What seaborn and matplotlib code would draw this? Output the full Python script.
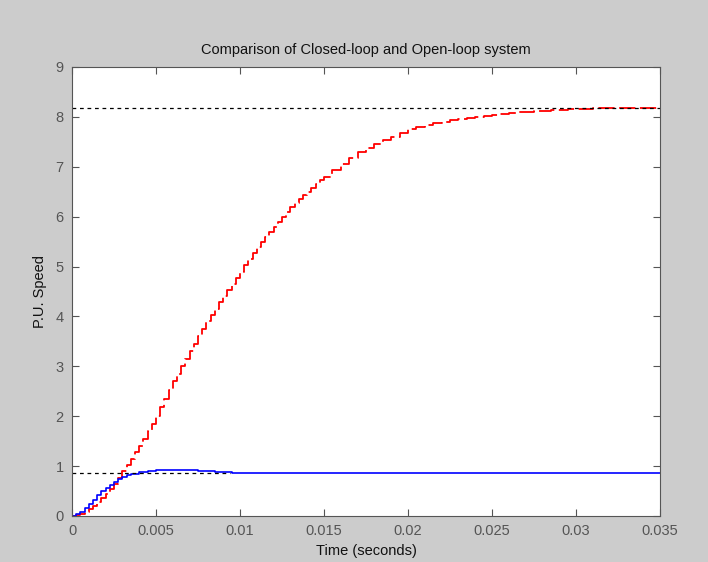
import numpy as np
import pandas as pd
import matplotlib
matplotlib.use("Agg")
import matplotlib.pyplot as plt
import seaborn as sns

# Open-loop response (red)
t_open = [0, 0.00025, 0.0005, 0.00075, 0.001, 0.00125, 0.0015, 0.00175, 0.002, 0.00225,
          0.0025, 0.00275, 0.003, 0.00325, 0.0035, 0.00375, 0.004, 0.00425, 0.0045, 0.00475,
          0.005, 0.00525, 0.0055, 0.00575, 0.006, 0.00625, 0.0065, 0.00675, 0.007, 0.00725,
          0.0075, 0.00775, 0.008, 0.00825, 0.0085, 0.00875, 0.009, 0.00925, 0.0095, 0.00975,
          0.010, 0.01025, 0.0105, 0.01075, 0.011, 0.01125, 0.0115, 0.01175, 0.012, 0.01225,
          0.0125, 0.01275, 0.013, 0.01325, 0.0135, 0.01375, 0.014, 0.01425, 0.0145, 0.01475,
          0.015, 0.0155, 0.016, 0.0165, 0.017, 0.0175, 0.018, 0.0185, 0.019, 0.0195,
          0.020, 0.0205, 0.021, 0.0215, 0.022, 0.0225, 0.023, 0.0235, 0.024, 0.0245,
          0.025, 0.0255, 0.026, 0.0265, 0.027, 0.0275, 0.028, 0.0285, 0.029, 0.0295,
          0.030, 0.031, 0.032, 0.033, 0.035]
y_open = [0, 0.01, 0.04, 0.08, 0.14, 0.2, 0.28, 0.36, 0.45, 0.55,
          0.65, 0.77, 0.9, 1.02, 1.15, 1.28, 1.4, 1.55, 1.7, 1.85,
          2.0, 2.18, 2.35, 2.52, 2.7, 2.85, 3.0, 3.15, 3.3, 3.45,
          3.6, 3.75, 3.9, 4.03, 4.15, 4.28, 4.4, 4.53, 4.65, 4.78,
          4.9, 5.03, 5.15, 5.28, 5.4, 5.5, 5.6, 5.7, 5.8, 5.9,
          6.0, 6.1, 6.2, 6.28, 6.35, 6.43, 6.5, 6.58, 6.65, 6.73,
          6.8, 6.93, 7.05, 7.18, 7.3, 7.38, 7.45, 7.53, 7.6, 7.68,
          7.75, 7.79, 7.83, 7.87, 7.9, 7.93, 7.95, 7.98, 8.0, 8.02,
          8.04, 8.06, 8.08, 8.09, 8.1, 8.11, 8.12, 8.13, 8.14, 8.15,
          8.16, 8.17, 8.17, 8.18, 8.18]

# Closed-loop response (blue)
t_closed = [0, 0.00025, 0.0005, 0.00075, 0.001, 0.00125, 0.0015, 0.00175, 0.002, 0.00225,
            0.0025, 0.00275, 0.003, 0.00325, 0.0035, 0.004, 0.0045, 0.005, 0.0065, 0.0075,
            0.0085, 0.0095, 0.035]
y_closed = [0, 0.03, 0.08, 0.15, 0.25, 0.33, 0.42, 0.5, 0.57, 0.63,
            0.69, 0.74, 0.79, 0.82, 0.85, 0.88, 0.9, 0.93, 0.93, 0.91,
            0.89, 0.87, 0.87]

open_final = 8.18
closed_final = 0.87
closed_settle = 0.0094

title = "Comparison of Closed-loop and Open-loop system"
xlabel = "Time (seconds)"
ylabel = "P.U. Speed"
xticks = [0, 0.005, 0.01, 0.015, 0.02, 0.025, 0.03, 0.035]
xticklabels = ["0", "0.005", "0.01", "0.015", "0.02", "0.025", "0.03", "0.035"]
yticks = list(range(10))

sns.set_style("ticks")
plt.rcParams["font.family"] = ["Liberation Sans", "DejaVu Sans"]

fig = plt.figure(figsize=(7.08, 5.62), dpi=100, facecolor="#cccccc")
ax = fig.add_axes([0.1017, 0.0819, 0.8305, 0.7989])
ax.set_facecolor("white")

df_open = pd.DataFrame({"t": t_open, "y": y_open})
df_closed = pd.DataFrame({"t": t_closed, "y": y_closed})

sns.lineplot(data=df_open, x="t", y="y", ax=ax, color="#ff0000", linewidth=1.3,
             drawstyle="steps-post", estimator=None, sort=False, linestyle=(0, (9, 2.5)))
sns.lineplot(data=df_closed, x="t", y="y", ax=ax, color="#0000ff", linewidth=1.2,
             drawstyle="steps-post", estimator=None, sort=False)

ax.plot([0, 0.035], [open_final, open_final], color="black", linestyle=(0, (3, 3)), linewidth=0.9)
ax.plot([0, closed_settle], [closed_final, closed_final], color="black", linestyle=(0, (3, 3)), linewidth=0.9)

ax.set_xlim(0, 0.035)
ax.set_ylim(0, 9)
ax.set_xticks(xticks)
ax.set_xticklabels(xticklabels)
ax.set_yticks(yticks)
ax.tick_params(direction="in", top=True, right=True, length=5, width=0.8,
               colors="#555555", labelsize=10.5, labelcolor="#555555", pad=6)
for s in ax.spines.values():
    s.set_color("#555555")
    s.set_linewidth(0.8)
    s.set_visible(True)

ax.set_title(title, fontsize=10.5, color="#111111", pad=9)
ax.set_xlabel(xlabel, fontsize=10.5, color="#111111", labelpad=4)
ax.set_ylabel(ylabel, fontsize=10.5, color="#111111", labelpad=6)

fig.savefig("out.png", dpi=100, facecolor=fig.get_facecolor())
